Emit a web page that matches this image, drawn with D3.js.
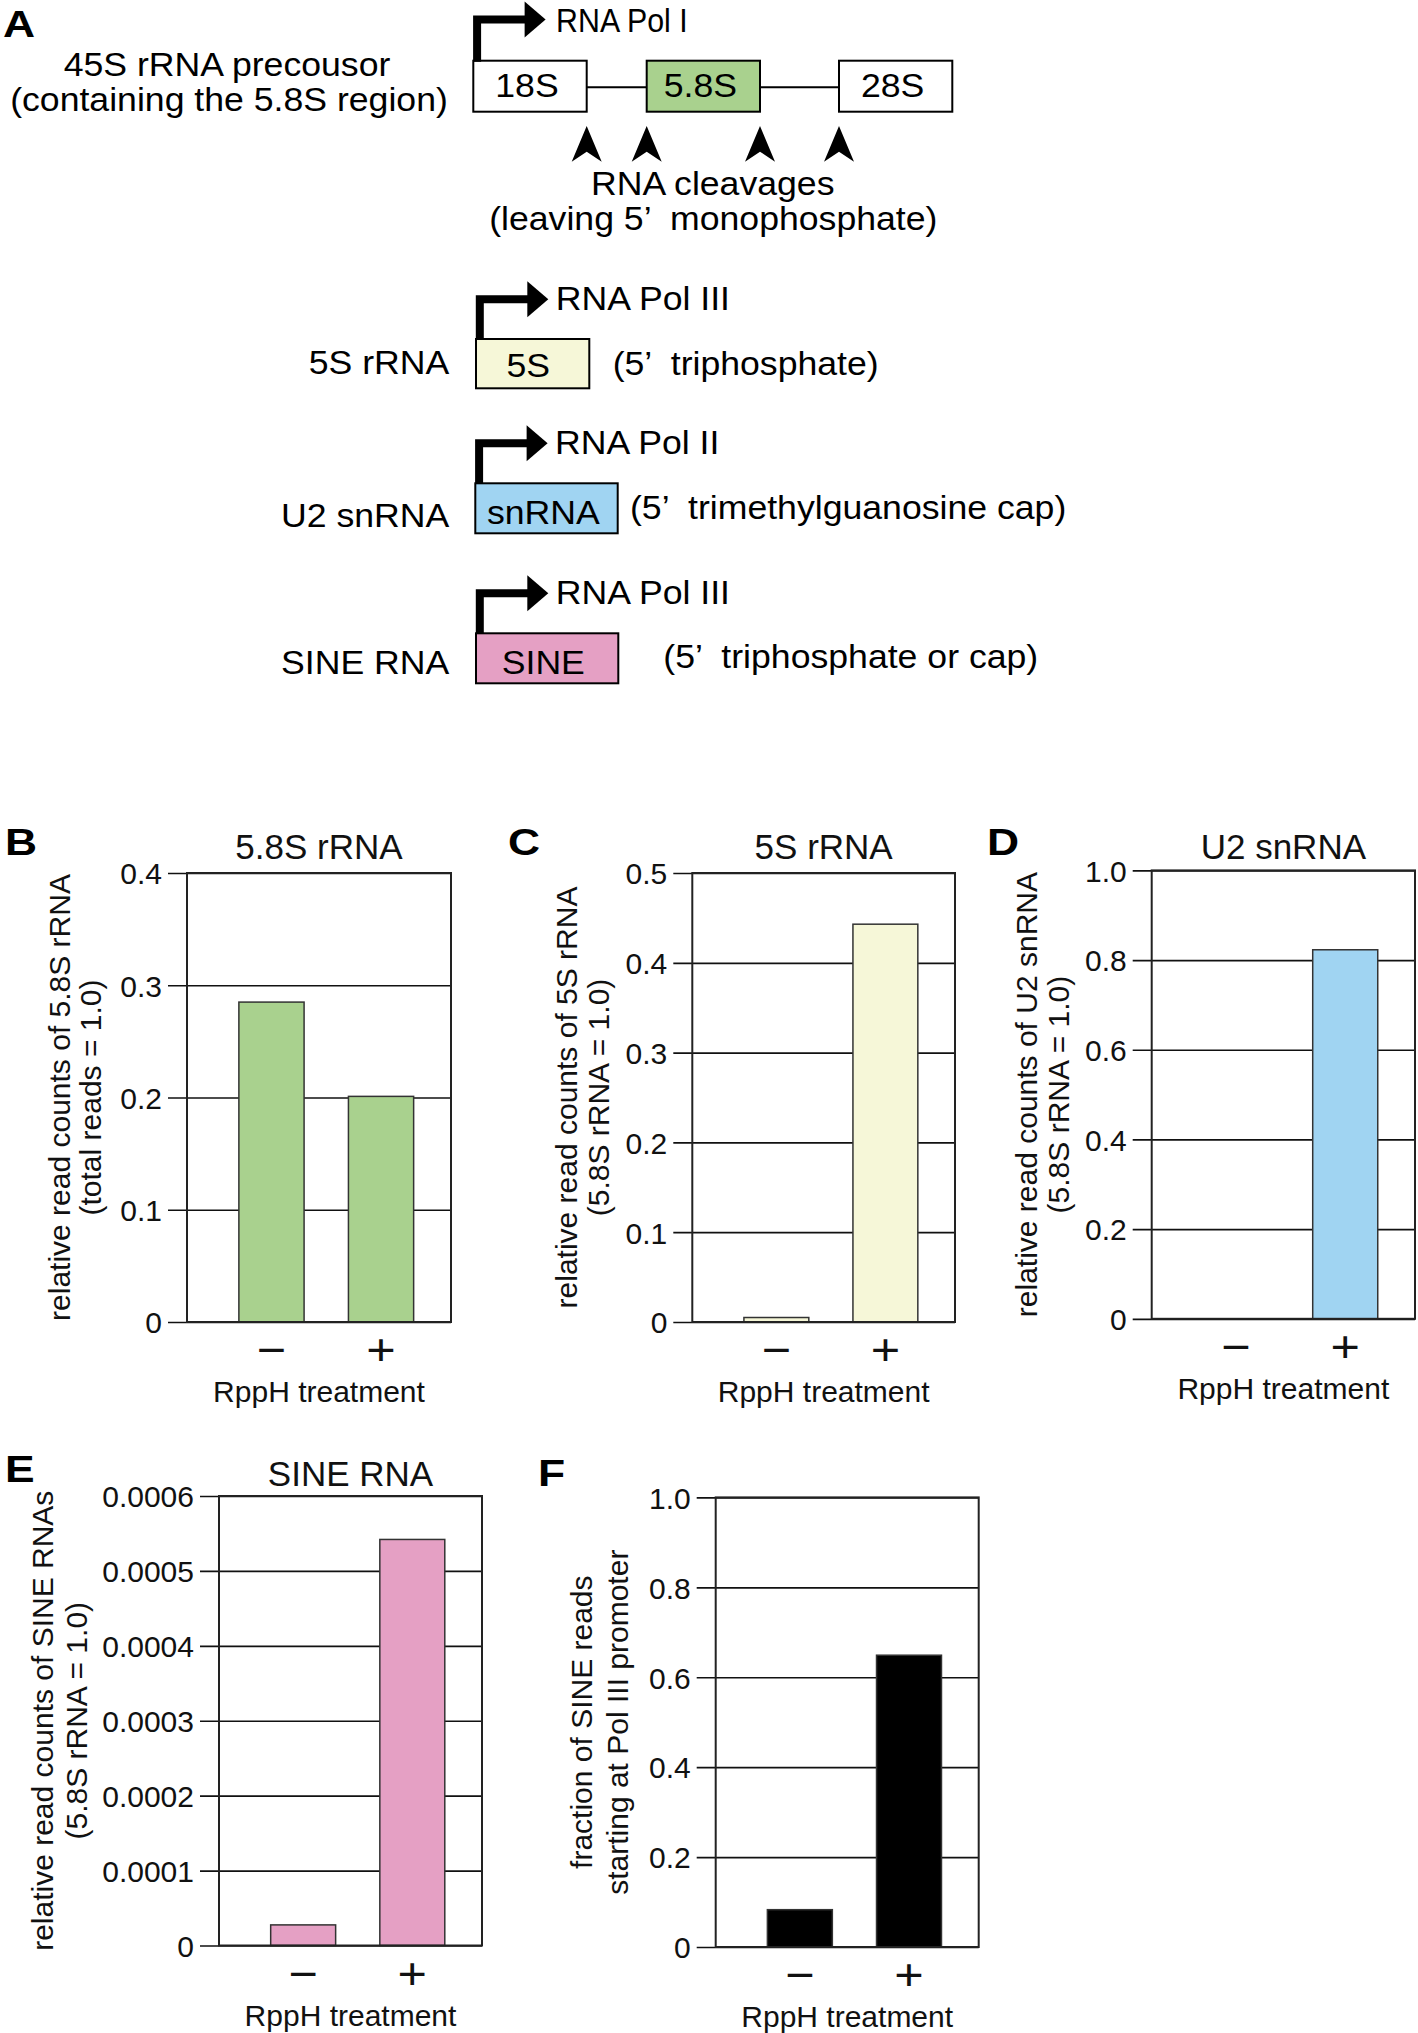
<!DOCTYPE html>
<html><head><meta charset="utf-8">
<script src="https://cdn.jsdelivr.net/npm/d3@7"></script>
<style>
html,body{margin:0;padding:0;background:#fff;}
svg{display:block;font-family:"Liberation Sans",Arial,Helvetica,sans-serif;}
text{white-space:pre;}
</style></head><body><div id="chart"></div>
<script>
// ---------------- data ----------------
const treatmentGroups = ["\u2212", "+"];
const rRNA58Values = [0.285, 0.201];
const rRNA5Values = [0.005, 0.443];
const u2Values = [0, 0.823];
const sineValues = [0.0000275, 0.000542];
const polIIIStartValues = [0.083, 0.649];

const ticks58 = [0, 0.1, 0.2, 0.3, 0.4];
const tickLabels58 = ["0", "0.1", "0.2", "0.3", "0.4"];
const ticks5 = [0, 0.1, 0.2, 0.3, 0.4, 0.5];
const tickLabels5 = ["0", "0.1", "0.2", "0.3", "0.4", "0.5"];
const ticksU2 = [0, 0.2, 0.4, 0.6, 0.8, 1.0];
const tickLabelsU2 = ["0", "0.2", "0.4", "0.6", "0.8", "1.0"];
const ticksSine = [0, 0.0001, 0.0002, 0.0003, 0.0004, 0.0005, 0.0006];
const tickLabelsSine = ["0", "0.0001", "0.0002", "0.0003", "0.0004", "0.0005", "0.0006"];
const ticksFrac = [0, 0.2, 0.4, 0.6, 0.8, 1.0];
const tickLabelsFrac = ["0", "0.2", "0.4", "0.6", "0.8", "1.0"];

const panelLetters = ["A", "B", "C", "D", "E", "F"];
const chartTitles = ["5.8S rRNA", "5S rRNA", "U2 snRNA", "SINE RNA", ""];
const xAxisTitle = "RppH treatment";
const yAxisTitles = [
  ["relative read counts of 5.8S rRNA", "(total reads = 1.0)"],
  ["relative read counts of 5S rRNA", "(5.8S rRNA = 1.0)"],
  ["relative read counts of U2 snRNA", "(5.8S rRNA = 1.0)"],
  ["relative read counts of SINE RNAs", "(5.8S rRNA = 1.0)"],
  ["fraction of SINE reads", "starting at Pol III promoter"]
];

// diagram (panel A) text
const precursorLabel = ["45S rRNA precousor", "(containing the 5.8S region)"];
const precursorPol = "RNA Pol I";
const precursorSegments = ["18S", "5.8S", "28S"];
const cleavageLabel = ["RNA cleavages", "(leaving 5\u2019  monophosphate)"];
const geneNames = ["5S rRNA", "U2 snRNA", "SINE RNA"];
const geneBoxLabels = ["5S", "snRNA", "SINE"];
const genePols = ["RNA Pol III", "RNA Pol II", "RNA Pol III"];
const geneNotes = ["(5\u2019  triphosphate)", "(5\u2019  trimethylguanosine cap)", "(5\u2019  triphosphate or cap)"];

// ---------------- styles ----------------
const colGreen = "#a9d18e", colYellow = "#f6f7d8", colBlue = "#a0d4f2", colPink = "#e5a0c4", colBlack = "#000";

const svg = d3.select("#chart").append("svg").attr("width", 1418).attr("height", 2033);
svg.append("rect").attr("width", 1418).attr("height", 2033).attr("fill", "#fff");

// ---------- helpers ----------
const FS = 33, SX = 1.08;
function stext(g, x, y, str, anchor, sx = SX, fs = FS) {
  return g.append("text")
    .attr("transform", `translate(${x},${y}) scale(${sx},1)`)
    .attr("text-anchor", anchor).attr("font-size", fs).attr("fill", "#000").text(str);
}
function letter(g, x, y, str) {
  return g.append("text").attr("transform", `translate(${x},${y}) scale(1.2,1)`)
    .attr("font-size", 37).attr("font-weight", "bold").attr("fill", "#000").text(str);
}
function promoter(g, boxLeft, boxTop, hy) {
  const vx = boxLeft + 3.8;
  g.append("path").attr("d", `M${vx},${boxTop} V${hy} H${vx + 49}`)
    .attr("fill", "none").attr("stroke", "#000").attr("stroke-width", 8)
    .attr("stroke-linejoin", "miter");
  g.append("path").attr("d", `M${vx + 47.5},${hy - 18} L${vx + 68.5},${hy} L${vx + 47.5},${hy + 18} Z`).attr("fill", "#000");
  return vx;
}

// ---------- panel A ----------
const gA = svg.append("g");
letter(gA, 3, 37, panelLetters[0]);
stext(gA, 227, 76, precursorLabel[0], "middle");
stext(gA, 229, 111, precursorLabel[1], "middle");

const segX = d3.scaleOrdinal().domain(precursorSegments).range([[473.3, 586.7], [646.7, 760], [839, 952.3]]);
const segFill = d3.scaleOrdinal().domain(precursorSegments).range(["#fff", colGreen, "#fff"]);
const segTop = 60.7, segBot = 111.7;
for (let i = 0; i < precursorSegments.length - 1; i++) {
  gA.append("line").attr("x1", segX(precursorSegments[i])[1]).attr("x2", segX(precursorSegments[i + 1])[0])
    .attr("y1", 87.3).attr("y2", 87.3).attr("stroke", "#000").attr("stroke-width", 2);
}
precursorSegments.forEach(s => {
  const [a, b] = segX(s);
  gA.append("rect").attr("x", a).attr("y", segTop).attr("width", b - a).attr("height", segBot - segTop)
    .attr("fill", segFill(s)).attr("stroke", "#000").attr("stroke-width", 2);
  stext(gA, (a + b) / 2 - 3, 97, s, "middle");
});
const vx0 = promoter(gA, 473.3, segTop + 1, 19.5);
stext(gA, vx0 + 79, 31.5, precursorPol, "start", 0.92);

// cleavage chevrons at segment boundaries
const cuts = [segX("18S")[1], segX("5.8S")[0], segX("5.8S")[1], segX("28S")[0]];
cuts.forEach(cx => {
  gA.append("path").attr("d", `M${cx - 15},161.7 L${cx},126 L${cx + 15},161.7 L${cx},151.7 Z`).attr("fill", "#000");
});
stext(gA, 712.7, 195, cleavageLabel[0], "middle");
stext(gA, 713.3, 230, cleavageLabel[1], "middle");

// gene rows
const rowLayout = [
  { bx: 476, bw: 113.3, by: 339, bh: 49.3, hy: 299.3, nameY: 374, tx: 528.3, ty: 376.7, noteX: 612.7, noteY: 375, fill: colYellow },
  { bx: 475.3, bw: 142.4, by: 483.3, bh: 50, hy: 443.3, nameY: 526.7, tx: 543.3, ty: 524.3, noteX: 630, noteY: 519, fill: colBlue },
  { bx: 476, bw: 142.3, by: 633.3, bh: 50, hy: 593.3, nameY: 674, tx: 543.3, ty: 674, noteX: 663.3, noteY: 668, fill: colPink }
];
geneNames.forEach((nm, i) => {
  const L = rowLayout[i];
  const vx = promoter(gA, L.bx, L.by + 1, L.hy);
  stext(gA, vx + 76, L.hy + 11, genePols[i], "start");
  gA.append("rect").attr("x", L.bx).attr("y", L.by).attr("width", L.bw).attr("height", L.bh)
    .attr("fill", L.fill).attr("stroke", "#000").attr("stroke-width", 2);
  stext(gA, L.tx, L.ty, geneBoxLabels[i], "middle");
  stext(gA, 449.3, L.nameY, nm, "end");
  stext(gA, L.noteX, L.noteY, geneNotes[i], "start");
});

// ---------- bar charts ----------
const charts = [
  { letter: panelLetters[1], title: chartTitles[0], values: rRNA58Values, ticks: ticks58, labels: tickLabels58, color: colGreen,
    box: [187, 451, 873, 1322], titleY: 858.5, letterXY: [5, 855], ylab: yAxisTitles[0], ylabOff: [-117, -86] },
  { letter: panelLetters[2], title: chartTitles[1], values: rRNA5Values, ticks: ticks5, labels: tickLabels5, color: colYellow,
    box: [692.3, 955, 873, 1322], titleY: 858.5, letterXY: [508, 855], ylab: yAxisTitles[1], ylabOff: [-115.6, -83.5] },
  { letter: panelLetters[3], title: chartTitles[2], values: u2Values, ticks: ticksU2, labels: tickLabelsU2, color: colBlue,
    box: [1151.7, 1415, 870.4, 1318.8], titleY: 859, letterXY: [987, 855], ylab: yAxisTitles[2], ylabOff: [-115, -83] },
  { letter: panelLetters[4], title: chartTitles[3], values: sineValues, ticks: ticksSine, labels: tickLabelsSine, color: colPink,
    box: [219, 482, 1496, 1945.5], titleY: 1486, letterXY: [5, 1482], ylab: yAxisTitles[3], ylabOff: [-166, -132] },
  { letter: panelLetters[5], title: chartTitles[4], values: polIIIStartValues, ticks: ticksFrac, labels: tickLabelsFrac, color: colBlack,
    box: [715.7, 978.7, 1497.4, 1947], titleY: 1486, letterXY: [538, 1486], ylab: yAxisTitles[4], ylabOff: [-124, -88] }
];

charts.forEach(cfg => {
  const [x0, x1, y0, y1] = cfg.box;
  const W = x1 - x0;
  const g = svg.append("g").attr("font-family", '"Liberation Sans",Arial,sans-serif');
  const y = d3.scaleLinear().domain([0, cfg.ticks[cfg.ticks.length - 1]]).range([y1, y0]);
  const x = d3.scalePoint().domain(treatmentGroups).range([x0 + 0.32 * W, x0 + 0.735 * W]);
  const bw = 0.247 * W;

  // y axis with grid lines
  const ga = g.append("g").attr("transform", `translate(${x1},0)`)
    .call(d3.axisLeft(y).tickValues(cfg.ticks).tickFormat((d, i) => cfg.labels[i]).tickSize(W + 19).tickPadding(6));
  ga.attr("font-family", null).attr("font-size", null);
  ga.select(".domain").remove();
  ga.selectAll(".tick line").attr("stroke", "#111").attr("stroke-width", 1.7);
  ga.selectAll(".tick text").attr("font-size", 30).attr("fill", "#111").attr("dy", "0.36em");

  // bars
  g.selectAll("rect.bar").data(cfg.values).join("rect").attr("class", "bar")
    .attr("x", (d, i) => x(treatmentGroups[i]) - bw / 2)
    .attr("y", d => y(d))
    .attr("width", bw)
    .attr("height", d => y(0) - y(d))
    .attr("fill", cfg.color).attr("stroke", "#333").attr("stroke-width", 1.5);

  // frame
  g.append("rect").attr("x", x0).attr("y", y0).attr("width", W).attr("height", y1 - y0)
    .attr("fill", "none").attr("stroke", "#222").attr("stroke-width", 2);

  // x axis (− / +)
  const gx = g.append("g").attr("transform", `translate(0,${y1})`)
    .call(d3.axisBottom(x).tickSize(0).tickPadding(0));
  gx.attr("font-family", null).attr("font-size", null);
  gx.select(".domain").remove();
  gx.selectAll(".tick text").attr("y", 43.5).attr("dy", null).attr("font-size", 45).attr("fill", "#111")
    .attr("transform", "scale(1.12,1)").attr("x", 0);
  gx.selectAll(".tick").attr("transform", d => `translate(${x(d)},0)`);

  g.append("text").attr("x", (x0 + x1) / 2).attr("y", y1 + 80).attr("text-anchor", "middle")
    .attr("font-size", 30).attr("fill", "#111").text(xAxisTitle);

  if (cfg.title) {
    g.append("text").attr("x", (x0 + x1) / 2).attr("y", cfg.titleY).attr("text-anchor", "middle")
      .attr("font-size", 35).attr("fill", "#111").text(cfg.title);
  }
  cfg.ylab.forEach((ln, i) => {
    g.append("text").attr("transform", `translate(${x0 + cfg.ylabOff[i]},${(y0 + y1) / 2}) rotate(-90)`)
      .attr("text-anchor", "middle").attr("font-size", 30).attr("fill", "#111").text(ln);
  });
  letter(g, cfg.letterXY[0], cfg.letterXY[1], cfg.letter);
});
</script></body></html>
